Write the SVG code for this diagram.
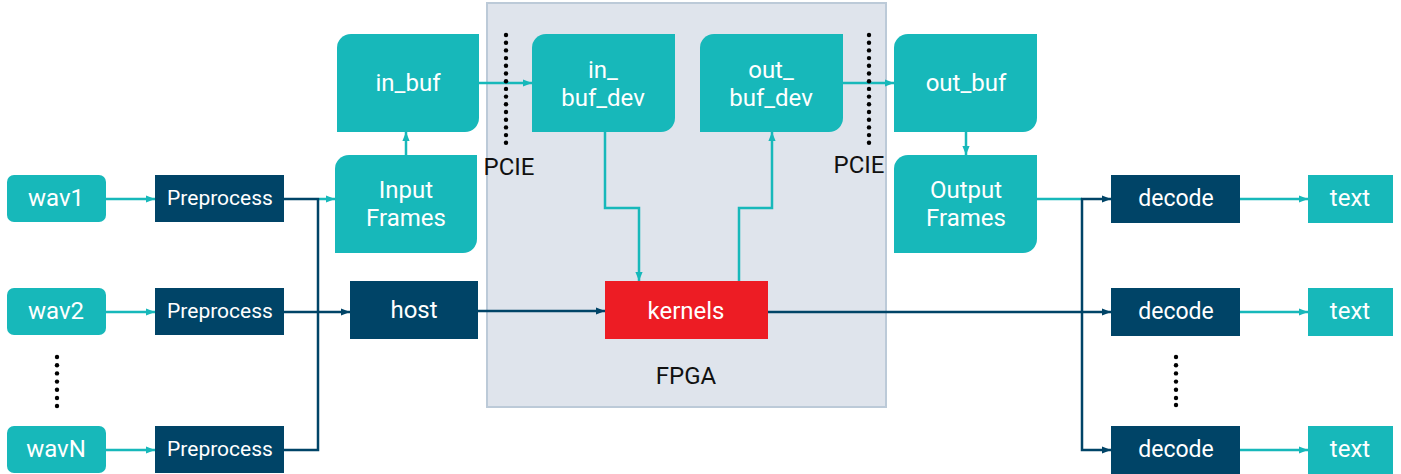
<svg xmlns="http://www.w3.org/2000/svg" width="1401" height="474" viewBox="0 0 1401 474">
<style>
.teal{fill:#17b8ba}
.dark{fill:#004467}
.red{fill:#ed1c24}
.lbl{font-family:Roboto,"Liberation Sans",sans-serif;font-size:24px;fill:#ffffff;text-anchor:middle;dominant-baseline:central}
.sm{font-size:21px}
.md{font-size:23px}
.blk{font-family:Roboto,"Liberation Sans",sans-serif;font-size:24px;fill:#111111;text-anchor:middle;dominant-baseline:central}
.ct{fill:none;stroke:#17b8ba;stroke-width:2.5}
.cd{fill:none;stroke:#004467;stroke-width:2.5}
.dot{fill:#000000}
</style>
<defs>
<marker id="at" viewBox="0 0 10 10" refX="10" refY="5" markerWidth="9" markerHeight="9" markerUnits="userSpaceOnUse" orient="auto"><path d="M0,1 L10,5 L0,9 z" fill="#17b8ba"/></marker>
<marker id="ad" viewBox="0 0 10 10" refX="10" refY="5" markerWidth="9" markerHeight="9" markerUnits="userSpaceOnUse" orient="auto"><path d="M0,1 L10,5 L0,9 z" fill="#004467"/></marker>
</defs>

<g id="fpga">
<rect x="487" y="3" width="399" height="404" fill="#dfe4ec" stroke="#bccad8" stroke-width="2"/>
<text class="blk" x="686" y="376">FPGA</text>
</g>

<g id="connectors">
<line class="ct" x1="106" y1="199" x2="155" y2="199" marker-end="url(#at)"/>
<line class="ct" x1="106" y1="312" x2="155" y2="312" marker-end="url(#at)"/>
<line class="ct" x1="106" y1="450" x2="155" y2="450" marker-end="url(#at)"/>
<line class="cd" x1="284" y1="199" x2="319" y2="199"/>
<line class="ct" x1="319" y1="199" x2="335" y2="199" marker-end="url(#at)"/>
<polyline class="cd" points="284,450 318,450 318,198"/>
<line class="cd" x1="284" y1="312" x2="350" y2="312" marker-end="url(#ad)"/>
<line class="ct" x1="406" y1="155" x2="406" y2="132" marker-end="url(#at)"/>
<line class="ct" x1="479" y1="83" x2="532" y2="83" marker-end="url(#at)"/>
<polyline class="ct" points="605,132 605,208 639,208 639,281" marker-end="url(#at)"/>
<polyline class="ct" points="739,281 739,208 772,208 772,132" marker-end="url(#at)"/>
<line class="ct" x1="843" y1="83" x2="894" y2="83" marker-end="url(#at)"/>
<line class="ct" x1="966" y1="132" x2="966" y2="155" marker-end="url(#at)"/>
<line class="ct" x1="1037" y1="199" x2="1082" y2="199"/>
<line class="cd" x1="1081" y1="199" x2="1111" y2="199" marker-end="url(#ad)"/>
<polyline class="cd" points="1082,198 1082,450 1111,450" marker-end="url(#ad)"/>
<line class="cd" x1="478" y1="311" x2="605" y2="311" marker-end="url(#ad)"/>
<line class="cd" x1="768" y1="312" x2="1111" y2="312" marker-end="url(#ad)"/>
<line class="ct" x1="1240" y1="199" x2="1308" y2="199" marker-end="url(#at)"/>
<line class="ct" x1="1240" y1="312" x2="1308" y2="312" marker-end="url(#at)"/>
<line class="ct" x1="1240" y1="450" x2="1308" y2="450" marker-end="url(#at)"/>
</g>

<g id="wav1"><rect class="teal" x="7" y="175" width="99" height="47" rx="7"/><text class="lbl" x="56" y="198">wav1</text></g>
<g id="wav2"><rect class="teal" x="7" y="288" width="99" height="47" rx="7"/><text class="lbl" x="56" y="311">wav2</text></g>
<g id="wavN"><rect class="teal" x="7" y="426" width="99" height="47" rx="7"/><text class="lbl" x="56" y="449">wavN</text></g>
<g id="dots-left">
<circle class="dot" cx="57" cy="357" r="2.2"/><circle class="dot" cx="57" cy="365.2" r="2.2"/><circle class="dot" cx="57" cy="373.4" r="2.2"/><circle class="dot" cx="57" cy="381.6" r="2.2"/><circle class="dot" cx="57" cy="389.8" r="2.2"/><circle class="dot" cx="57" cy="398" r="2.2"/><circle class="dot" cx="57" cy="406" r="2.2"/>
</g>

<g id="pre1"><rect class="dark" x="155" y="175" width="129" height="47"/><text class="lbl sm" x="220" y="198">Preprocess</text></g>
<g id="pre2"><rect class="dark" x="155" y="288" width="129" height="47"/><text class="lbl sm" x="220" y="311">Preprocess</text></g>
<g id="preN"><rect class="dark" x="155" y="426" width="129" height="47"/><text class="lbl sm" x="220" y="449">Preprocess</text></g>

<g id="input-frames"><path class="teal" d="M349,155 H477 V239 A14,14 0 0 1 463,253 H335 V169 A14,14 0 0 1 349,155 Z"/><text class="lbl" x="406" y="190">Input</text><text class="lbl" x="406" y="218">Frames</text></g>
<g id="in-buf"><path class="teal" d="M351,34 H479 V118 A14,14 0 0 1 465,132 H337 V48 A14,14 0 0 1 351,34 Z"/><text class="lbl" x="408" y="83">in_buf</text></g>
<g id="host"><rect class="dark" x="350" y="281" width="128" height="58"/><text class="lbl" x="414" y="310">host</text></g>

<g id="pcie-left">
<circle class="dot" cx="506" cy="35" r="2.2"/><circle class="dot" cx="506" cy="42.7" r="2.2"/><circle class="dot" cx="506" cy="50.4" r="2.2"/><circle class="dot" cx="506" cy="58.1" r="2.2"/><circle class="dot" cx="506" cy="65.8" r="2.2"/><circle class="dot" cx="506" cy="73.5" r="2.2"/><circle class="dot" cx="506" cy="81.2" r="2.2"/><circle class="dot" cx="506" cy="88.9" r="2.2"/><circle class="dot" cx="506" cy="96.6" r="2.2"/><circle class="dot" cx="506" cy="104.3" r="2.2"/><circle class="dot" cx="506" cy="112" r="2.2"/><circle class="dot" cx="506" cy="119.7" r="2.2"/><circle class="dot" cx="506" cy="127.4" r="2.2"/><circle class="dot" cx="506" cy="135.1" r="2.2"/><circle class="dot" cx="506" cy="142.8" r="2.2"/>
<text class="blk" x="509" y="167">PCIE</text>
</g>

<g id="in-buf-dev"><path class="teal" d="M546,34 H675 V118 A14,14 0 0 1 661,132 H532 V48 A14,14 0 0 1 546,34 Z"/><text class="lbl" x="603" y="70">in_</text><text class="lbl" x="603" y="98">buf_dev</text></g>
<g id="out-buf-dev"><path class="teal" d="M714,34 H843 V118 A14,14 0 0 1 829,132 H700 V48 A14,14 0 0 1 714,34 Z"/><text class="lbl" x="771" y="70">out_</text><text class="lbl" x="771" y="98">buf_dev</text></g>

<g id="pcie-right">
<circle class="dot" cx="869" cy="35" r="2.2"/><circle class="dot" cx="869" cy="42.7" r="2.2"/><circle class="dot" cx="869" cy="50.4" r="2.2"/><circle class="dot" cx="869" cy="58.1" r="2.2"/><circle class="dot" cx="869" cy="65.8" r="2.2"/><circle class="dot" cx="869" cy="73.5" r="2.2"/><circle class="dot" cx="869" cy="81.2" r="2.2"/><circle class="dot" cx="869" cy="88.9" r="2.2"/><circle class="dot" cx="869" cy="96.6" r="2.2"/><circle class="dot" cx="869" cy="104.3" r="2.2"/><circle class="dot" cx="869" cy="112" r="2.2"/><circle class="dot" cx="869" cy="119.7" r="2.2"/><circle class="dot" cx="869" cy="127.4" r="2.2"/><circle class="dot" cx="869" cy="135.1" r="2.2"/><circle class="dot" cx="869" cy="142.8" r="2.2"/>
<text class="blk" x="859" y="165">PCIE</text>
</g>

<g id="kernels"><rect class="red" x="605" y="281" width="163" height="58"/><text class="lbl" x="686" y="311">kernels</text></g>

<g id="out-buf"><path class="teal" d="M908,34 H1037 V118 A14,14 0 0 1 1023,132 H894 V48 A14,14 0 0 1 908,34 Z"/><text class="lbl" x="966" y="83">out_buf</text></g>
<g id="output-frames"><path class="teal" d="M908,155 H1037 V239 A14,14 0 0 1 1023,253 H894 V169 A14,14 0 0 1 908,155 Z"/><text class="lbl" x="966" y="190">Output</text><text class="lbl" x="966" y="218">Frames</text></g>

<g id="decode1"><rect class="dark" x="1111" y="175" width="129" height="48"/><text class="lbl md" x="1176" y="198">decode</text></g>
<g id="decode2"><rect class="dark" x="1111" y="288" width="129" height="48"/><text class="lbl md" x="1176" y="311">decode</text></g>
<g id="decodeN"><rect class="dark" x="1111" y="426" width="129" height="48"/><text class="lbl md" x="1176" y="449">decode</text></g>
<g id="dots-right">
<circle class="dot" cx="1176" cy="357" r="2.2"/><circle class="dot" cx="1176" cy="365.2" r="2.2"/><circle class="dot" cx="1176" cy="373.4" r="2.2"/><circle class="dot" cx="1176" cy="381.6" r="2.2"/><circle class="dot" cx="1176" cy="389.8" r="2.2"/><circle class="dot" cx="1176" cy="398" r="2.2"/><circle class="dot" cx="1176" cy="405" r="2.2"/>
</g>

<g id="text1"><rect class="teal" x="1308" y="175" width="85" height="48"/><text class="lbl" x="1350" y="198">text</text></g>
<g id="text2"><rect class="teal" x="1308" y="288" width="85" height="48"/><text class="lbl" x="1350" y="311">text</text></g>
<g id="textN"><rect class="teal" x="1308" y="426" width="85" height="48"/><text class="lbl" x="1350" y="449">text</text></g>
</svg>
